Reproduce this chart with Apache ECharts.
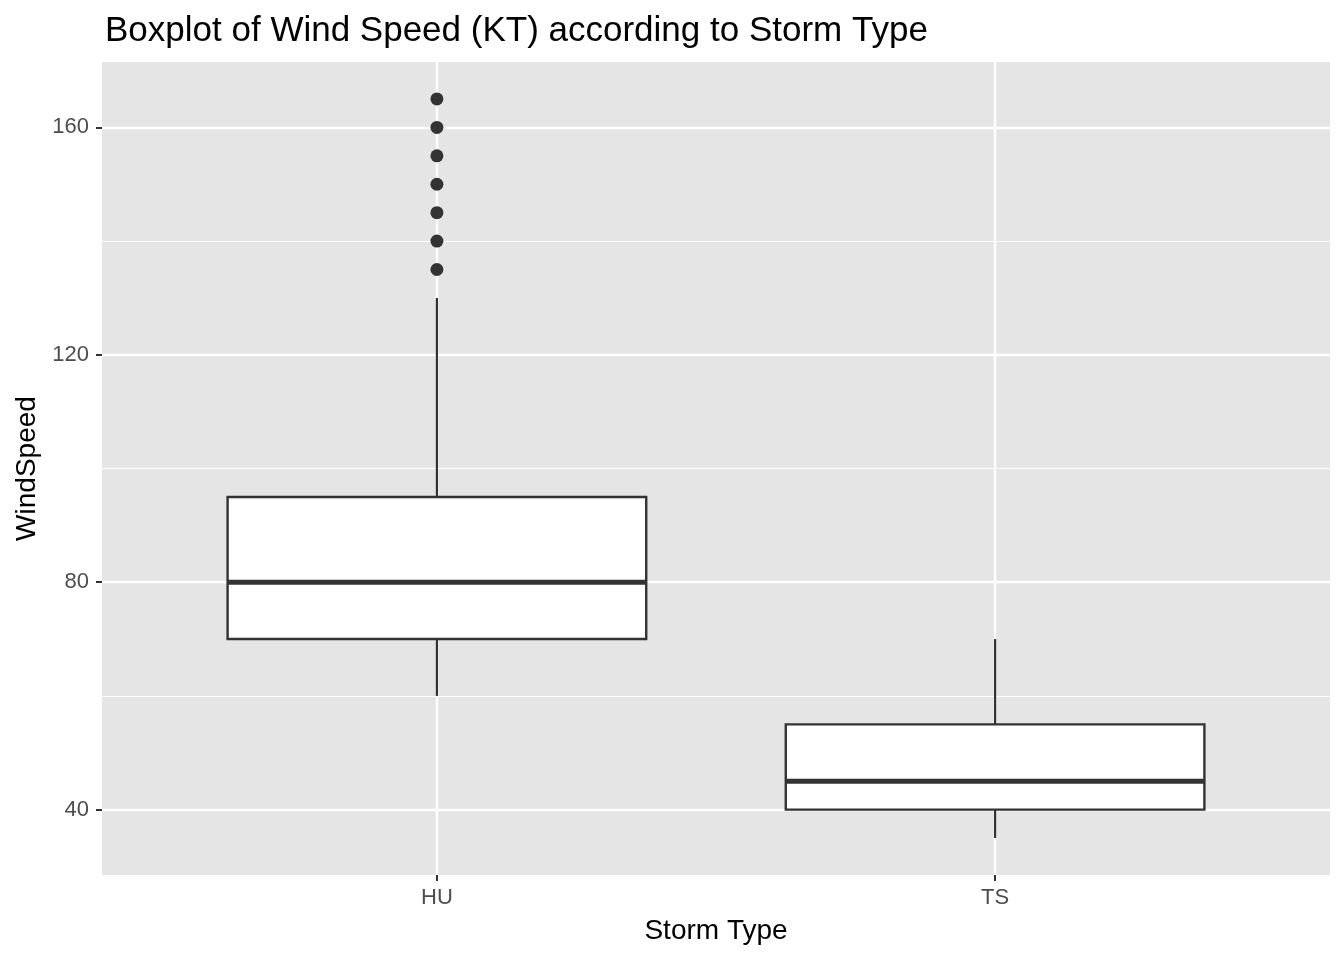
<!DOCTYPE html>
<html>
<head>
<meta charset="utf-8">
<script src="https://cdn.jsdelivr.net/npm/echarts@6.0.0/dist/echarts.min.js"></script>
<style>
  html, body { margin: 0; padding: 0; background: #fff; }
  #chart { width: 1344px; height: 960px; }
</style>
</head>
<body>
<div id="chart"></div>
<script>
// box statistics per storm type
var stormTypes = ['HU', 'TS'];
var typePos = [1, 2];
var whiskerLow = [60, 35];
var q1 = [70, 40];
var median = [80, 45];
var q3 = [95, 55];
var whiskerHigh = [130, 70];
// outliers (all HU)
var outlierPos = [1, 1, 1, 1, 1, 1, 1];
var outlierSpeed = [135, 140, 145, 150, 155, 160, 165];
// axis ticks
var yTicks = [40, 80, 120, 160];
var yMinor = [60, 100, 140];

var boxData = typePos.map(function (p, i) {
  return [p, whiskerLow[i], q1[i], median[i], q3[i], whiskerHigh[i]];
});
var outlierData = outlierPos.map(function (p, i) { return [p, outlierSpeed[i]]; });

function renderBox(params, api) {
  var x = api.value(0);
  var half = api.size([0.75, 0])[0] / 2;
  var pLow = api.coord([x, api.value(1)]);
  var pQ1 = api.coord([x, api.value(2)]);
  var pMed = api.coord([x, api.value(3)]);
  var pQ3 = api.coord([x, api.value(4)]);
  var pHigh = api.coord([x, api.value(5)]);
  var line = { stroke: '#333333', lineWidth: 2.2 };
  return {
    type: 'group',
    children: [
      { type: 'line', shape: { x1: pLow[0], y1: pLow[1], x2: pQ1[0], y2: pQ1[1] }, style: line },
      { type: 'line', shape: { x1: pQ3[0], y1: pQ3[1], x2: pHigh[0], y2: pHigh[1] }, style: line },
      {
        type: 'rect',
        shape: { x: pQ3[0] - half, y: pQ3[1], width: half * 2, height: pQ1[1] - pQ3[1] },
        style: { fill: '#ffffff', stroke: '#333333', lineWidth: 2.4 }
      },
      {
        type: 'line',
        shape: { x1: pMed[0] - half, y1: pMed[1], x2: pMed[0] + half, y2: pMed[1] },
        style: { stroke: '#333333', lineWidth: 5 }
      }
    ]
  };
}

var chart = echarts.init(document.getElementById('chart'));
chart.setOption({
  animation: false,
  backgroundColor: '#ffffff',
  textStyle: { fontFamily: 'Liberation Sans, Arial, sans-serif' },
  title: {
    text: 'Boxplot of Wind Speed (KT) according to Storm Type',
    left: 100,
    top: 9,
    textStyle: { fontSize: 35, fontWeight: 'normal', color: '#000000' }
  },
  grid: {
    left: 102,
    right: 14,
    top: 62,
    bottom: 85,
    show: true,
    backgroundColor: '#E5E5E5',
    borderWidth: 0,
    outerBoundsMode: 'none'
  },
  xAxis: {
    type: 'value',
    min: 0.4,
    max: 2.6,
    name: 'Storm Type',
    nameLocation: 'middle',
    nameGap: 42,
    nameTextStyle: { fontSize: 28, color: '#000000' },
    axisLine: { show: false },
    axisTick: {
      show: true,
      customValues: typePos,
      length: 6,
      lineStyle: { color: '#333333', width: 2 }
    },
    axisLabel: {
      customValues: typePos,
      margin: 12,
      fontSize: 22,
      color: '#4D4D4D',
      formatter: function (v) {
        var i = typePos.indexOf(v);
        return i >= 0 ? stormTypes[i] : '';
      }
    },
    splitLine: { show: true, lineStyle: { color: '#ffffff', width: 2.4 } }
  },
  yAxis: {
    type: 'value',
    min: 28.5,
    max: 171.5,
    name: 'WindSpeed',
    nameLocation: 'middle',
    nameRotate: 90,
    nameGap: 60,
    nameTextStyle: { fontSize: 28, color: '#000000' },
    axisLine: { show: false },
    axisTick: {
      show: true,
      customValues: yTicks,
      length: 6,
      lineStyle: { color: '#333333', width: 2 }
    },
    axisLabel: {
      customValues: yTicks,
      margin: 13,
      fontSize: 22,
      color: '#4D4D4D'
    },
    splitLine: { show: true, lineStyle: { color: '#ffffff', width: 2.4 } }
  },
  series: [
    {
      type: 'line',
      data: [],
      z: 1,
      silent: true,
      markLine: {
        silent: true,
        z: 1,
        symbol: ['none', 'none'],
        label: { show: false },
        lineStyle: { color: '#ffffff', width: 1.2, type: 'solid' },
        emphasis: { disabled: true },
        data: yMinor.map(function (v) { return { yAxis: v }; })
      }
    },
    {
      type: 'custom',
      renderItem: renderBox,
      data: boxData,
      z: 3,
      encode: { x: 0, y: [1, 2, 3, 4, 5] }
    },
    {
      type: 'scatter',
      data: outlierData,
      symbolSize: 13,
      z: 4,
      itemStyle: { color: '#333333', opacity: 1 }
    }
  ]
});
</script>
</body>
</html>
